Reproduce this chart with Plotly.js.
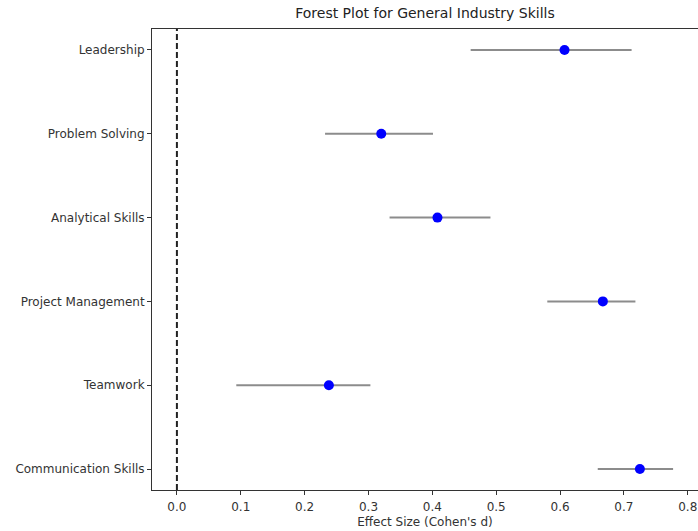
<!DOCTYPE html>
<html>
<head>
<meta charset="utf-8">
<script src="https://cdn.plot.ly/plotly-3.0.1.min.js"></script>
<style>
  html, body { margin: 0; padding: 0; background: #fff; }
  #chart { width: 698px; height: 531px; }
</style>
</head>
<body>
<div id="chart"></div>
<script>
// Data (top to bottom)
const skills = ["Leadership", "Problem Solving", "Analytical Skills", "Project Management", "Teamwork", "Communication Skills"];
const effectSizes = [0.607, 0.320, 0.408, 0.667, 0.238, 0.725];
const ciLower = [0.460, 0.232, 0.333, 0.580, 0.093, 0.659];
const ciUpper = [0.712, 0.401, 0.491, 0.718, 0.303, 0.777];
const xTickValues = [0.0, 0.1, 0.2, 0.3, 0.4, 0.5, 0.6, 0.7, 0.8];
const xTickLabels = ["0.0", "0.1", "0.2", "0.3", "0.4", "0.5", "0.6", "0.7", "0.8"];
const referenceValue = 0;

const errPlus = effectSizes.map((v, i) => ciUpper[i] - v);
const errMinus = effectSizes.map((v, i) => v - ciLower[i]);

const font = "DejaVu Sans, sans-serif";

const trace = {
  type: "scatter",
  mode: "markers",
  x: effectSizes,
  y: skills,
  marker: { color: "#0000ff", size: 10, line: { width: 0 } },
  error_x: {
    type: "data",
    symmetric: false,
    array: errPlus,
    arrayminus: errMinus,
    color: "#8c8c8c",
    thickness: 2,
    width: 0
  },
  hoverinfo: "x+y",
  showlegend: false
};

const layout = {
  width: 698,
  height: 531,
  margin: { l: 152, r: 0, t: 29, b: 41 },
  paper_bgcolor: "#ffffff",
  plot_bgcolor: "#ffffff",
  font: { family: font, size: 12, color: "#222" },
  title: {
    text: "Forest Plot for General Industry Skills",
    font: { family: font, size: 14, color: "#222" },
    x: 0.5, xref: "paper", xanchor: "center",
    y: 1 - 13 / 531, yref: "container", yanchor: "middle"
  },
  xaxis: {
    range: [-0.039, 0.816],
    tickmode: "array",
    tickvals: xTickValues,
    ticktext: xTickLabels,
    ticks: "outside",
    ticklen: 4,
    tickwidth: 1,
    tickcolor: "#333",
    ticklabelstandoff: 2,
    showgrid: false,
    zeroline: false,
    showline: true,
    linecolor: "#333",
    linewidth: 1,
    mirror: true,
    tickfont: { family: font, size: 12, color: "#333" },
    title: { text: "Effect Size (Cohen's d)", font: { family: font, size: 12, color: "#333" }, standoff: 4 }
  },
  yaxis: {
    type: "category",
    categoryorder: "array",
    categoryarray: skills.slice().reverse(),
    range: [-0.25, skills.length - 0.75],
    ticks: "outside",
    ticklen: 4,
    tickwidth: 1,
    tickcolor: "#333",
    showgrid: false,
    zeroline: false,
    showline: true,
    linecolor: "#333",
    linewidth: 1,
    mirror: true,
    tickfont: { family: font, size: 12, color: "#333" }
  },
  shapes: [{
    type: "line",
    xref: "x", yref: "paper",
    x0: referenceValue, x1: referenceValue, y0: 0, y1: 1,
    line: { color: "#222", width: 2, dash: "6px,3px" },
    layer: "above"
  }]
};

Plotly.newPlot("chart", [trace], layout, { displayModeBar: false, staticPlot: true });
</script>
</body>
</html>
